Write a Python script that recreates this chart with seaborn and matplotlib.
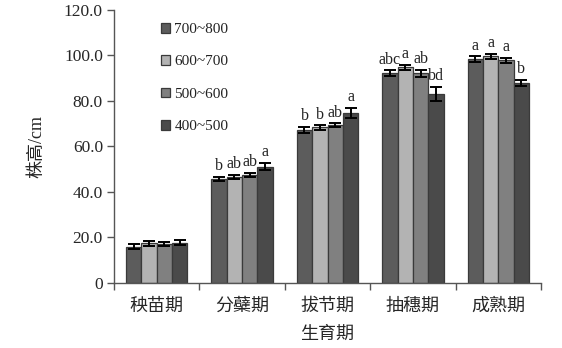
import numpy as np
import pandas as pd
import matplotlib
matplotlib.use("Agg")
import matplotlib.pyplot as plt
from matplotlib.container import BarContainer
import seaborn as sns

stages = ["秧苗期", "分蘗期", "拔节期", "抽穗期", "成熟期"]
groups = ["700~800", "600~700", "500~600", "400~500"]
# heights (cm), per group across stages
h_700 = [15.9, 45.5, 67.3, 92.2, 98.4]
h_600 = [17.3, 46.4, 68.3, 94.7, 99.6]
h_500 = [17.0, 47.4, 69.2, 92.2, 97.8]
h_400 = [17.6, 51.1, 74.6, 83.1, 87.8]
# error (sd)
e_700 = [1.0, 0.9, 1.3, 1.2, 1.2]
e_600 = [1.0, 0.9, 0.9, 1.3, 1.2]
e_500 = [1.0, 0.9, 0.9, 1.5, 1.2]
e_400 = [1.1, 1.5, 2.2, 3.0, 1.3]
# significance letters
l_700 = ["", "b", "b", "abc", "a"]
l_600 = ["", "ab", "b", "a", "a"]
l_500 = ["", "ab", "ab", "ab", "a"]
l_400 = ["", "a", "a", "bd", "b"]
colors = ["#5c5c5c", "#b3b3b3", "#808080", "#4a4a4a"]

heights = [h_700, h_600, h_500, h_400]
errs = [e_700, e_600, e_500, e_400]
letters = [l_700, l_600, l_500, l_400]

rows = []
for g, hs in zip(groups, heights):
    for s, v in zip(stages, hs):
        rows.append({"stage": s, "group": g, "height": v})
df = pd.DataFrame(rows)

sns.set_style("white")
plt.rcParams['font.family'] = ['Liberation Serif', 'Noto Sans CJK SC']

fig = plt.figure(figsize=(5.62, 3.48), dpi=100)
ax = fig.add_axes([114/562, 1-282.7/348, 427/562, 272.7/348])

sns.barplot(data=df, x="stage", y="height", hue="group", order=stages,
            hue_order=groups, palette=colors, errorbar=None, width=0.72,
            edgecolor="#3a3a3a", linewidth=0.9, ax=ax, saturation=1)

bar_conts = [c for c in ax.containers if isinstance(c, BarContainer)]
for gi, cont in enumerate(bar_conts):
    for si, bar in enumerate(cont.patches):
        xc = bar.get_x() + bar.get_width() / 2
        top = bar.get_height()
        ax.errorbar(xc, top, yerr=errs[gi][si], fmt="none", ecolor="black",
                    elinewidth=1.4, capsize=4, capthick=1.4, zorder=5)
        lab = letters[gi][si]
        if lab:
            ax.annotate(lab, (xc, top + errs[gi][si]), xytext=(0, 2),
                        textcoords="offset points", ha="center", va="bottom",
                        fontsize=11.5, color="#222222")

ax.set_ylim(0, 120)
ax.set_xlim(-0.5, 4.5)
ax.set_yticks([0, 20, 40, 60, 80, 100, 120])
ax.set_yticklabels(["0", "20.0", "40.0", "60.0", "80.0", "100.0", "120.0"], fontsize=12.5)
ax.set_xticks(range(5))
ax.set_xticklabels(stages, fontsize=13)
ax.set_xticks(np.arange(-0.5, 5.0, 1.0), minor=True)
ax.tick_params(axis="x", which="major", length=0, pad=11)
ax.tick_params(axis="x", which="minor", length=5, direction="out", color="#555555", width=1, bottom=True)
ax.tick_params(axis="y", length=5, direction="out", color="#555555", width=1, left=True, pad=3)
for sp in ["top", "right"]:
    ax.spines[sp].set_visible(False)
for sp in ["left", "bottom"]:
    ax.spines[sp].set_color("#555555")
    ax.spines[sp].set_linewidth(1)

ax.set_xlabel("生育期", fontsize=13, labelpad=8)
ax.set_ylabel("株高/cm", fontsize=13, labelpad=13)

leg = ax.legend(loc="upper left", bbox_to_anchor=(0.095, 0.975), frameon=False,
                fontsize=11, handlelength=0.6, handleheight=0.6, labelspacing=1.25,
                handletextpad=0.3, borderaxespad=0)
for t in leg.get_texts():
    t.set_color("#222222")

fig.savefig("out.png", dpi=100)
